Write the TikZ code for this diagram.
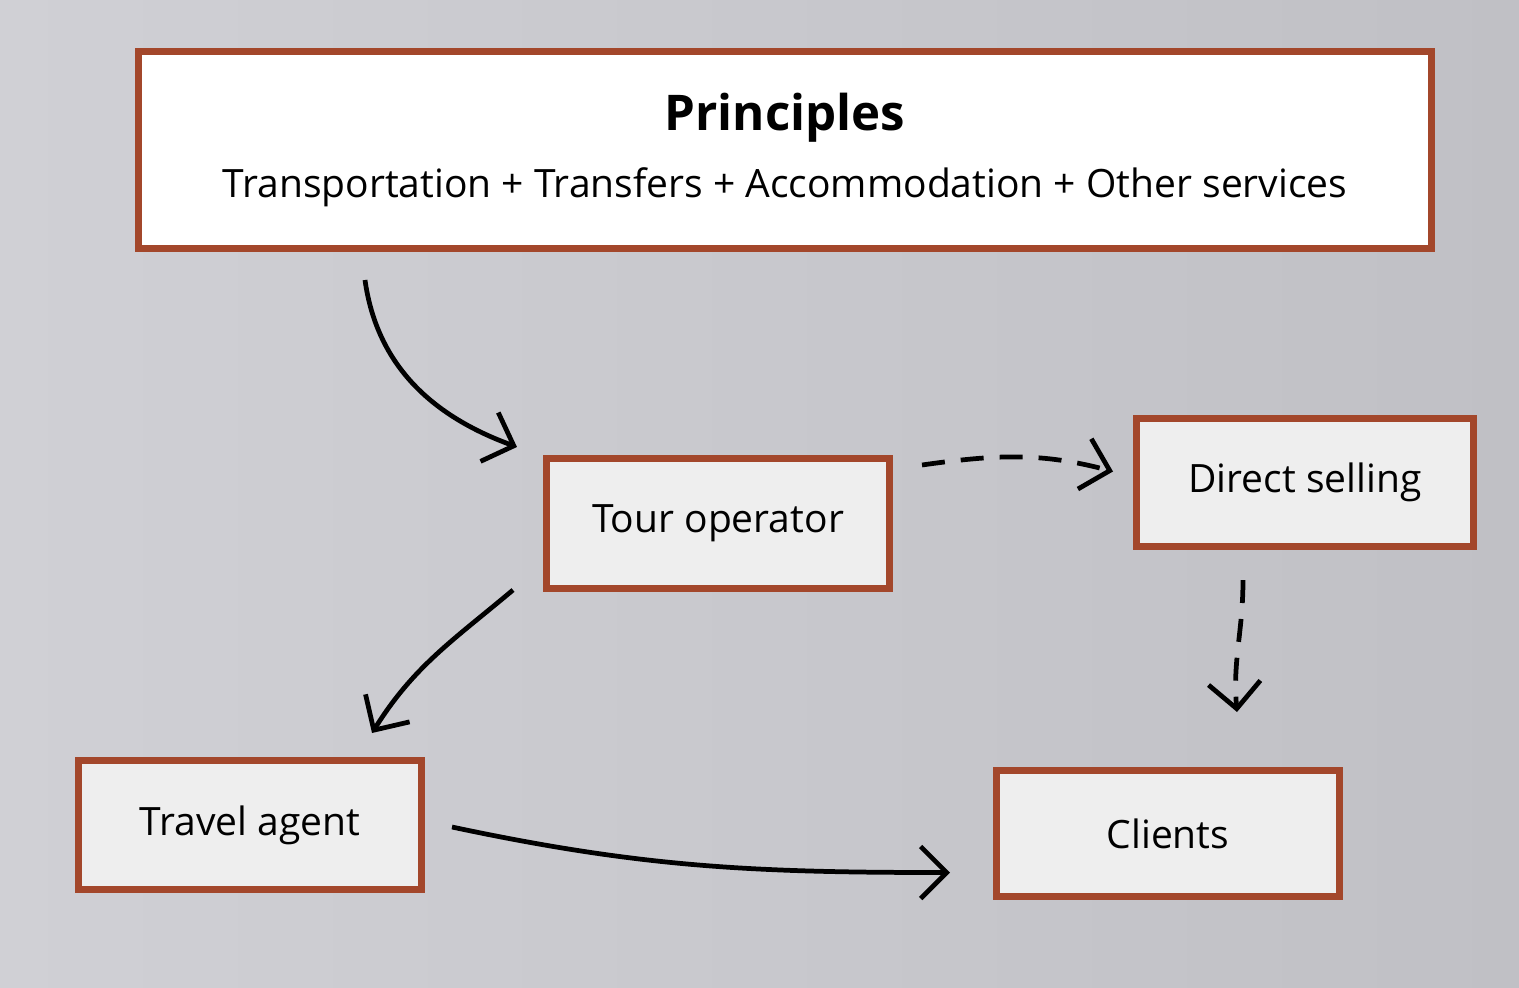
\documentclass[tikz,border=0pt]{standalone}
\usepackage{fontspec}
\setmainfont{Open Sans}
\usetikzlibrary{arrows.meta}
\definecolor{bgL}{HTML}{D0D0D5}
\definecolor{bgR}{HTML}{C0C0C5}
\definecolor{frame}{HTML}{A3472B}
\definecolor{boxfill}{HTML}{EEEEEE}
\begin{document}
\begin{tikzpicture}[
  box/.style={draw=frame, line width=2pt, fill=boxfill, inner sep=0pt, font=\fontsize{11.1}{13}\selectfont},
  conn/.style={line width=1.35pt, -{Straight Barb[length=2.6mm,width=5.2mm,line width=1.35pt]}},
  dashconn/.style={conn, dash pattern=on 2.3mm off 1.6mm},
]
\shade[left color=bgL, right color=bgR] (0,0) rectangle (15.19,-9.87);
\useasboundingbox (0,0) rectangle (15.19,-9.87);

\node[box, fill=white, minimum width=12.93cm, minimum height=1.97cm, align=center] (prin) at (7.85,-1.50)
  {{\fontsize{14}{16}\selectfont\bfseries Principles}\\[6pt]
   {\fontsize{11.1}{13}\selectfont Transportation + Transfers + Accommodation + Other services}};
\node[box, minimum width=3.43cm, minimum height=1.30cm] (tour) at (7.18,-5.235) {Tour operator};
\node[box, minimum width=3.37cm, minimum height=1.28cm] (ds) at (13.05,-4.825) {Direct selling};
\node[box, minimum width=3.43cm, minimum height=1.29cm] (ta) at (2.50,-8.25) {Travel agent};
\node[box, minimum width=3.43cm, minimum height=1.26cm] (cl) at (11.68,-8.335) {Clients};

\draw[conn] ([xshift=2.30cm,yshift=-0.28cm]prin.south west) to[out=-82,in=160] ([xshift=-0.26cm,yshift=0.08cm]tour.north west);
\draw[dashconn] ([xshift=0.29cm,yshift=-0.10cm]tour.north east) to[out=8,in=165] ([xshift=-0.20cm,yshift=0.11cm]ds.west);
\draw[dashconn] ([xshift=1.10cm,yshift=-0.30cm]ds.south west) to[out=-90,in=95] ([xshift=0.69cm,yshift=0.55cm]cl.north);
\draw[conn] ([xshift=-0.30cm,yshift=0.02cm]tour.south west) to[out=-140,in=58] ([xshift=-0.53cm,yshift=0.24cm]ta.north east);
\draw[conn] ([xshift=0.27cm,yshift=-0.02cm]ta.east) to[out=-12,in=180] ([xshift=-0.43cm,yshift=-0.39cm]cl.west);
\end{tikzpicture}
\end{document}
